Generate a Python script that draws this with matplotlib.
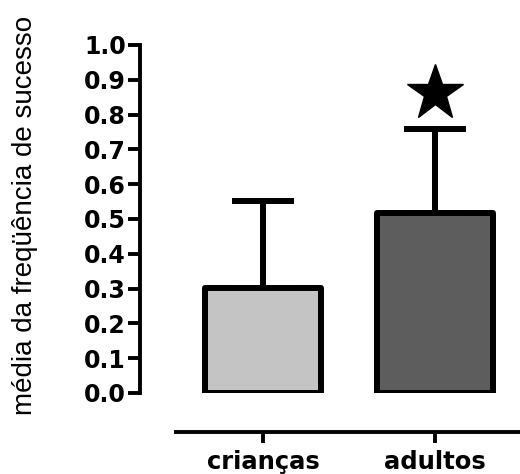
import matplotlib.pyplot as plt
import numpy as np

plt.rcParams["font.family"] = ["DejaVu Sans"]
plt.rcParams["font.weight"] = "bold"

grupos = ["crianças", "adultos"]
medias = [0.303, 0.518]
erros = [0.250, 0.240]
cores = ["#c4c4c4", "#5d5d5d"]
estrela_y = 0.863

fig = plt.figure(figsize=(5.2, 4.74), dpi=100)
ax = fig.add_axes([140/520, 1-393/474, 1-140/520, (393-45)/474])

x = np.arange(len(grupos))
ax.errorbar(x, medias, yerr=[np.zeros(2), erros], fmt="none", ecolor="black",
            elinewidth=4.3, capsize=22, capthick=4.3, zorder=1,
            solid_capstyle="round", dash_capstyle="round")
ax.bar(x, medias, width=0.68, color=cores, edgecolor="black", linewidth=4.3,
       zorder=2, joinstyle="round")
ax.plot(1, estrela_y, marker="*", markersize=42, color="black",
        clip_on=False, zorder=3)

for s in ["top", "right"]:
    ax.spines[s].set_visible(False)
ax.spines["left"].set_linewidth(2.8)
ax.spines["bottom"].set_linewidth(2.8)
ax.spines["bottom"].set_position(("outward", 28))
ax.spines["bottom"].set_bounds(-87/172, 257/172)

ax.set_ylim(0, 1.0)
ax.set_xlim(-123/172, 257/172)
ax.set_yticks(np.arange(0, 1.01, 0.1))
ax.set_yticklabels(["%.1f" % v for v in np.arange(0, 1.01, 0.1)])
ax.set_xticks(x)
ax.set_xticklabels(grupos)
ax.tick_params(axis="y", length=9, width=2.8, pad=1, labelsize=17)
ax.tick_params(axis="x", length=8, width=2.8, pad=5, labelsize=17.5)

fig.text(0.048, 1-215/474, "média da freqüência de sucesso", rotation=90,
         ha="center", va="center", fontfamily="Liberation Sans",
         fontweight="normal", fontsize=20)

fig.savefig("out.png", dpi=100)
